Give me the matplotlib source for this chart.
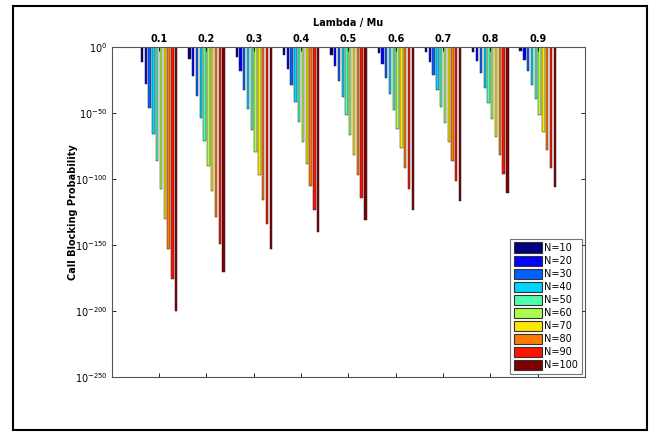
import numpy as np
import matplotlib
matplotlib.use("Agg")
import matplotlib.pyplot as plt
from matplotlib.patches import Rectangle
from matplotlib.ticker import NullLocator

# Lambda / Mu values (groups) and number of channels (series)
loads = [0.1, 0.2, 0.3, 0.4, 0.5, 0.6, 0.7, 0.8, 0.9]
channels = [10, 20, 30, 40, 50, 60, 70, 80, 90, 100]

# log10 of call blocking probability, one list per N
exp_n10 = [-11.4, -8.8, -7.6, -6.1, -5.6, -4.5, -4.0, -3.8, -3.0]
exp_n20 = [-27.8, -22.0, -18.4, -16.2, -14.4, -12.9, -11.4, -10.6, -9.8]
exp_n30 = [-46.0, -37.1, -32.1, -28.3, -25.8, -23.2, -21.2, -19.9, -18.4]
exp_n40 = [-65.7, -53.5, -46.5, -41.9, -38.1, -35.6, -32.6, -30.8, -28.8]
exp_n50 = [-86.4, -71.2, -62.9, -56.8, -51.5, -47.7, -45.0, -42.4, -39.4]
exp_n60 = [-107.3, -90.2, -79.5, -72.2, -66.9, -61.9, -57.6, -54.3, -51.5]
exp_n70 = [-130.0, -109.1, -97.0, -88.6, -81.6, -76.5, -72.0, -67.9, -64.4]
exp_n80 = [-152.8, -129.0, -115.4, -105.3, -97.2, -91.4, -86.4, -81.6, -77.8]
exp_n90 = [-175.8, -149.2, -133.6, -123.0, -114.4, -107.3, -101.3, -96.0, -91.7]
exp_n100 = [-200.0, -170.0, -152.8, -140.2, -131.1, -123.0, -116.4, -110.6, -105.6]

exps = [exp_n10, exp_n20, exp_n30, exp_n40, exp_n50,
        exp_n60, exp_n70, exp_n80, exp_n90, exp_n100]

colors = plt.cm.jet(np.linspace(0, 1, len(channels)))

fig = plt.figure(figsize=(6.5, 4.33), dpi=100)
ax = fig.add_axes([0.172, 0.129, 0.728, 0.762])

x = np.array(loads)
n = len(channels)
group_w = 0.08
slot = group_w / n
bar_w = slot * 0.62

for i, (N, e) in enumerate(zip(channels, exps)):
    v = 10.0 ** np.array(e)
    xi = x - group_w / 2 + slot * (i + 0.5)
    ax.bar(xi, 1 - v, bottom=v, width=bar_w, color=colors[i],
           edgecolor='#222222', linewidth=0.35, label='N=%d' % N)

ax.set_yscale('log')
ax.set_ylim(1e-250, 1)
ax.set_xlim(0, 1)
ax.set_yticks([10.0 ** k for k in range(-250, 1, 50)])
ax.set_yticklabels(['$10^{%d}$' % k for k in range(-250, 1, 50)])
ax.yaxis.set_minor_locator(NullLocator())
ax.set_xticks(loads)
ax.set_xticklabels(['%.1f' % l for l in loads])

ax.xaxis.set_label_position('top')
ax.set_xlabel('Lambda / Mu', fontsize=7, fontweight='bold', labelpad=6)
ax.set_ylabel('Call Blocking Probability', fontsize=7, fontweight='bold', labelpad=-2)
ax.tick_params(axis='x', which='both', top=True, bottom=True,
               labeltop=True, labelbottom=False, direction='in', length=3,
               labelsize=7, pad=2, width=0.6)
ax.tick_params(axis='y', which='both', left=True, right=True,
               direction='in', length=3, labelsize=7, pad=3, width=0.6)
for lbl in ax.get_xticklabels() + ax.get_yticklabels():
    lbl.set_fontweight('bold')
for s in ax.spines.values():
    s.set_color('#555555')
    s.set_linewidth(0.8)

leg = ax.legend(loc='lower right', fontsize=7, handlelength=2.9, handleheight=1.3,
                labelspacing=0.25, handletextpad=0.2, borderpad=0.4,
                borderaxespad=0.3, fancybox=False, frameon=True)
leg.get_frame().set_edgecolor('#555555')
leg.get_frame().set_linewidth(0.8)
for h in leg.legend_handles:
    h.set_edgecolor('#333333')
    h.set_linewidth(0.8)

# outer frame around the whole figure
fig.patches.append(Rectangle((0.02, 0.007), 0.975, 0.979, transform=fig.transFigure,
                             fill=False, edgecolor='black', linewidth=1.5))

fig.savefig('out.png', dpi=100)
